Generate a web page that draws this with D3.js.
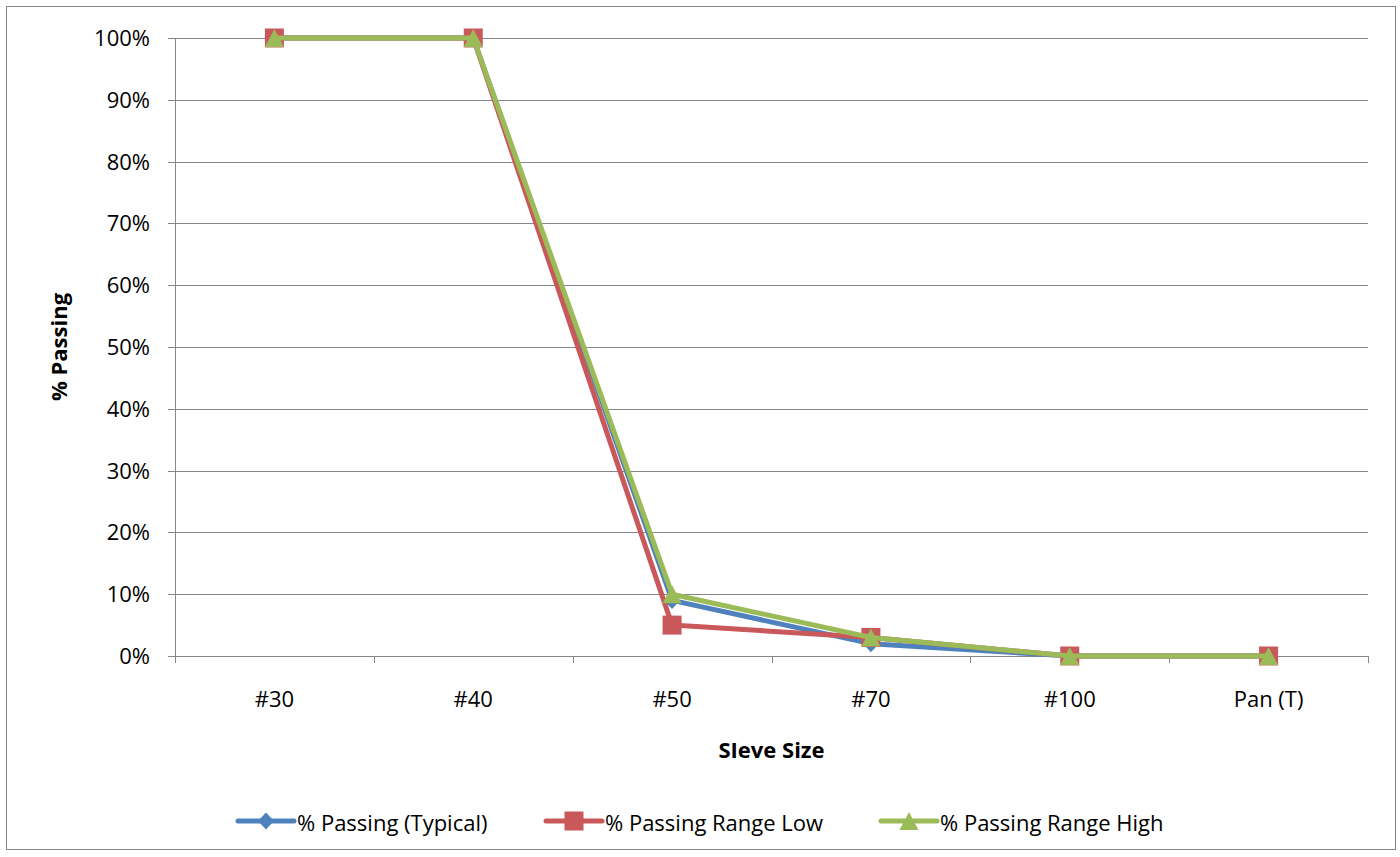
<!DOCTYPE html>
<html><head><meta charset="utf-8">
<script src="https://cdn.jsdelivr.net/npm/d3@7"></script>
<style>body{margin:0;background:#fff}svg{display:block}text{font-family:"Open Sans",Lato,sans-serif;fill:#000}</style>
</head><body><svg id="c" width="1400" height="857"></svg>
<script>
const categories = ["#30","#40","#50","#70","#100","Pan (T)"];
const typical = [100,100,9,2,0,0];
const rangeLow = [100,100,5,3,0,0];
const rangeHigh = [100,100,10,3,0,0];
const yTicks = [0,10,20,30,40,50,60,70,80,90,100];
const seriesNames = ["% Passing (Typical)","% Passing Range Low","% Passing Range High"];
const colors = ["#4F81BD","#C9585A","#9BBB59"];
const FS = "22px";

const diamond = "M0,-8.5L8,0L0,8.5L-8,0Z";
const square = "M-9.5,-9.5H9.5V9.5H-9.5Z";
const triangle = "M0,-9L9.5,9H-9.5Z";
const markers = [diamond, square, triangle];

const svg = d3.select("#c");
svg.append("rect").attr("x",6.5).attr("y",6.5).attr("width",1389).attr("height",843).attr("fill","#fff").attr("stroke","#868686").attr("stroke-width",1);

const L=175, R=1368, T=38, B=656;
const x = d3.scaleBand().domain(categories).range([L,R]);
const y = d3.scaleLinear().domain([0,100]).range([B,T]);

svg.append("g").selectAll("line").data(yTicks).join("line")
  .attr("x1",L-7).attr("x2",R).attr("y1",d=>Math.round(y(d))+0.5).attr("y2",d=>Math.round(y(d))+0.5)
  .attr("stroke","#868686").attr("stroke-width",1);
svg.append("line").attr("x1",L+0.5).attr("x2",L+0.5).attr("y1",T).attr("y2",B+0.5).attr("stroke","#868686");
svg.append("g").selectAll("text").data(yTicks).join("text")
  .attr("x",150).attr("y",d=>y(d)).attr("dy","0.36em").attr("text-anchor","end")
  .style("font-size",FS).text(d=>d+"%");
const bounds = categories.map(c=>x(c)).concat([R]);
svg.append("g").selectAll("line").data(bounds).join("line")
  .attr("x1",d=>Math.round(d)+0.5).attr("x2",d=>Math.round(d)+0.5).attr("y1",B).attr("y2",B+7)
  .attr("stroke","#868686");
svg.append("g").selectAll("text").data(categories).join("text")
  .attr("x",d=>x(d)+x.bandwidth()/2).attr("y",707).attr("text-anchor","middle")
  .style("font-size",FS).text(d=>d);
svg.append("text").attr("x",(L+R)/2).attr("y",758).attr("text-anchor","middle")
  .style("font-size",FS).style("font-weight","bold").text("SIeve Size");
svg.append("text").attr("transform","translate(67,347) rotate(-90)").attr("text-anchor","middle")
  .style("font-size",FS).style("font-weight","bold").text("% Passing");

const allSeries=[typical,rangeLow,rangeHigh];
const line = d3.line().x((d,i)=>x(categories[i])+x.bandwidth()/2).y(d=>y(d));
allSeries.forEach((s,k)=>{
  svg.append("path").datum(s).attr("d",line).attr("fill","none").attr("stroke",colors[k]).attr("stroke-width",5).attr("stroke-linejoin","round");
  svg.append("g").selectAll("path").data(s).join("path")
    .attr("transform",(d,i)=>`translate(${x(categories[i])+x.bandwidth()/2},${y(d)})`)
    .attr("d",markers[k]).attr("fill",colors[k]);
});

const legX=[238,546,881];
seriesNames.forEach((n,k)=>{
  const g=svg.append("g").attr("transform",`translate(${legX[k]},821)`);
  g.append("line").attr("x1",0).attr("x2",56).attr("stroke",colors[k]).attr("stroke-width",5).attr("stroke-linecap","round");
  g.append("path").attr("transform",`translate(28,0)`).attr("d",markers[k]).attr("fill",colors[k]);
  g.append("text").attr("x",59).attr("y",2).attr("dy","0.36em").style("font-size",FS).text(n);
});
</script></body></html>
